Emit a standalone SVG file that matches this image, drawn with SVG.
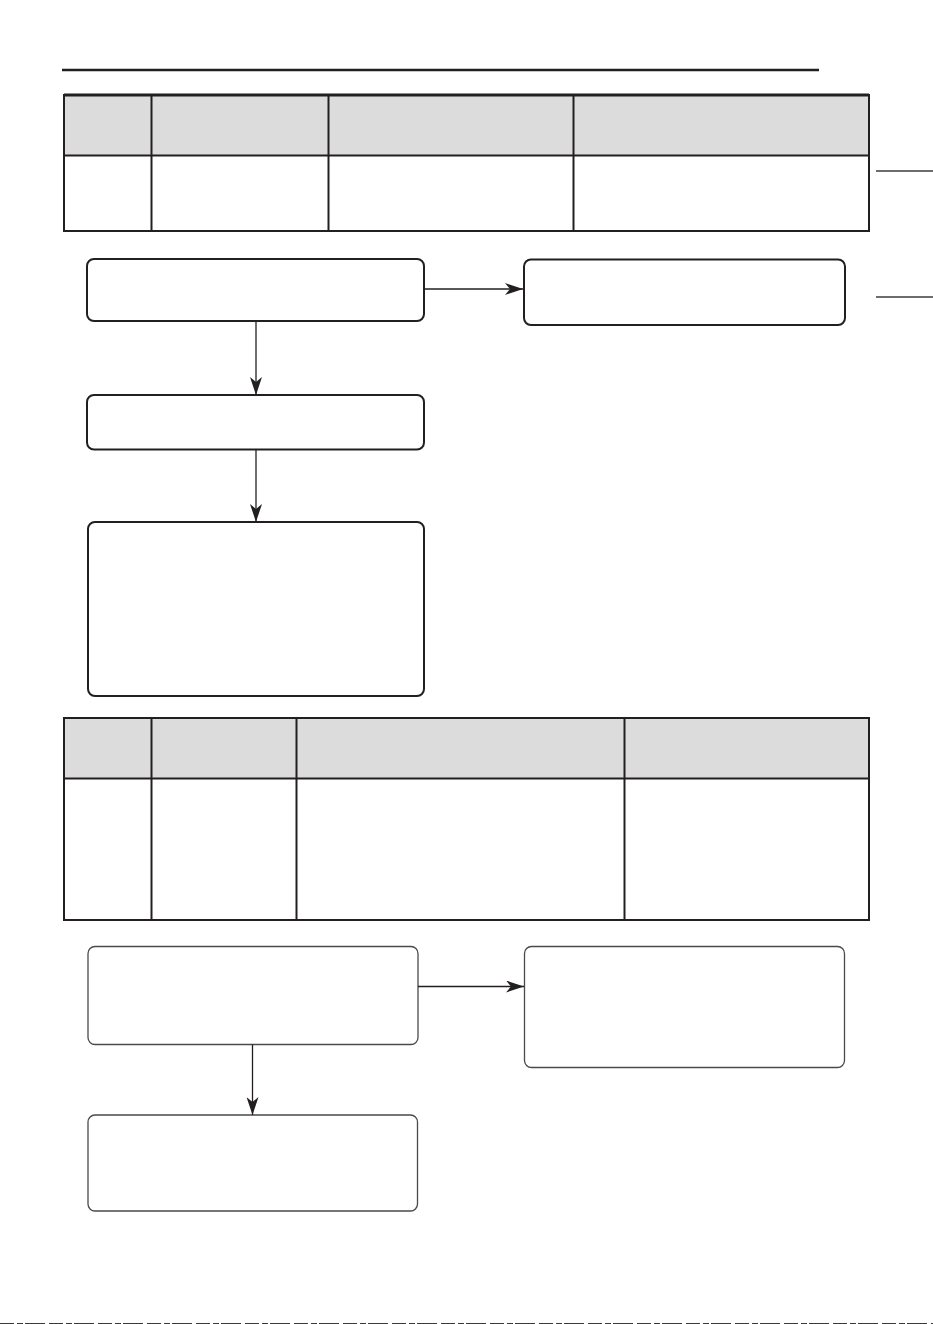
<svg xmlns="http://www.w3.org/2000/svg" width="933" height="1324" viewBox="0 0 933 1324">
<style>
.tbl{fill:none;stroke:#231f20;stroke-width:2}
.hdr{fill:#dcdcdc}
.bx{fill:#fff;stroke:#231f20;stroke-width:2}
.bx2{fill:#fff;stroke:#4a4a4a;stroke-width:1.3}
.cn{fill:none;stroke:#231f20;stroke-width:1.3}
.side{stroke:#6d6d6d;stroke-width:2}
</style>
<defs>
<marker id="ah" viewBox="0 0 18 12" refX="18" refY="6" markerWidth="18" markerHeight="12" markerUnits="userSpaceOnUse" orient="auto">
<path d="M0,0 L18,6 L0,12 L5,6 Z" fill="#231f20"/>
</marker>
</defs>
<rect width="933" height="1324" fill="#fff"/>
<line x1="62" y1="70" x2="819" y2="70" stroke="#231f20" stroke-width="2.5"/>
<line class="side" x1="876" y1="171" x2="933" y2="171"/>
<line class="side" x1="876" y1="297" x2="933" y2="297"/>
<g id="table1">
<rect class="hdr" x="64" y="95" width="805" height="60"/>
<rect class="tbl" x="64" y="95" width="805" height="136"/>
<line x1="64" y1="95" x2="869" y2="95" stroke="#231f20" stroke-width="3"/>
<line class="tbl" x1="64" y1="155.5" x2="869" y2="155.5"/>
<line class="tbl" x1="151.5" y1="95" x2="151.5" y2="231"/>
<line class="tbl" x1="328.5" y1="95" x2="328.5" y2="231"/>
<line class="tbl" x1="573.5" y1="95" x2="573.5" y2="231"/>
</g>
<g id="table2">
<rect class="hdr" x="64" y="718" width="805" height="60"/>
<rect class="tbl" x="64" y="718" width="805" height="202"/>
<line class="tbl" x1="64" y1="778.5" x2="869" y2="778.5"/>
<line class="tbl" x1="151.5" y1="718" x2="151.5" y2="920"/>
<line class="tbl" x1="296.5" y1="718" x2="296.5" y2="920"/>
<line class="tbl" x1="624.5" y1="718" x2="624.5" y2="920"/>
</g>
<g id="n1"><rect class="bx" x="87" y="259" width="337" height="62" rx="7"/></g>
<g id="n2"><rect class="bx" x="524" y="259.5" width="321" height="65.5" rx="7"/></g>
<g id="n3"><rect class="bx" x="87" y="395" width="337" height="54.5" rx="7"/></g>
<g id="n4"><rect class="bx" x="88" y="522" width="336" height="174" rx="7"/></g>
<g id="n5"><rect class="bx2" x="88" y="946.5" width="330" height="98" rx="7"/></g>
<g id="n6"><rect class="bx2" x="524.5" y="946.5" width="320" height="121" rx="7"/></g>
<g id="n7"><rect class="bx2" x="88" y="1115" width="329.5" height="96" rx="7"/></g>
<g id="connectors">
<line class="cn" x1="424" y1="289" x2="523" y2="289" marker-end="url(#ah)"/>
<line class="cn" x1="256" y1="321" x2="256" y2="395" marker-end="url(#ah)"/>
<line class="cn" x1="256" y1="449.5" x2="256" y2="522" marker-end="url(#ah)"/>
<line class="cn" x1="418" y1="986.5" x2="524" y2="986.5" marker-end="url(#ah)"/>
<line class="cn" x1="252.5" y1="1044.5" x2="252.5" y2="1115" marker-end="url(#ah)"/>
</g>
<line x1="0" y1="1323.5" x2="933" y2="1323.5" stroke="#3a3a3a" stroke-width="1" stroke-dasharray="14 3 6 2 20 4"/>
</svg>
